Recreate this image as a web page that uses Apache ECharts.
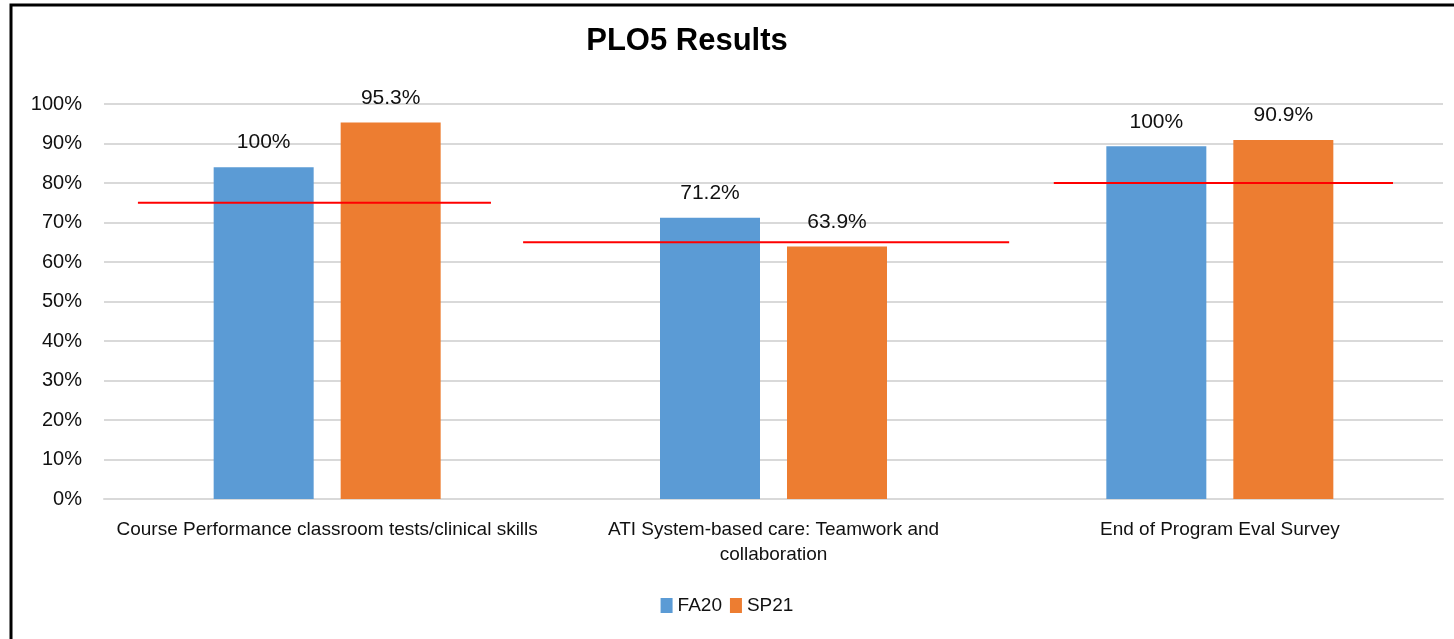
<!DOCTYPE html>
<html>
<head>
<meta charset="utf-8">
<title>PLO5 Results</title>
<script src="https://cdn.jsdelivr.net/npm/echarts@6/dist/echarts.min.js"></script>
<style>
  html, body { margin: 0; padding: 0; background: #fff; }
  #chart { width: 1454px; height: 639px; }
</style>
</head>
<body>
<div id="chart"></div>
<script>
// categories and series
var categories = [
  'Course Performance classroom tests/clinical skills',
  'ATI System-based care: Teamwork and\ncollaboration',
  'End of Program Eval Survey'
];
var fa20 = [84.0, 71.2, 89.3];
var sp21 = [95.3, 63.9, 90.9];
// label text shown above the bars (as printed on the chart)
var fa20Labels = ['100%', '71.2%', '100%'];
var sp21Labels = ['95.3%', '63.9%', '90.9%'];
// red target lines: value, start / end along the category scale
var targets = [75, 65, 80];
var targetFrom = [-0.424, 0.439, 1.628];
var targetTo = [0.367, 1.528, 2.388];
var yTicks = [0, 10, 20, 30, 40, 50, 60, 70, 80, 90, 100];

var chart = echarts.init(document.getElementById('chart'));

var font = '"Liberation Sans", Arial, sans-serif';

var targetSeries = targets.map(function (t, i) {
  return {
    name: 'target' + i,
    type: 'line',
    xAxisIndex: 1,
    symbol: 'none',
    silent: true,
    lineStyle: { color: '#ff0000', width: 2 },
    data: [[targetFrom[i], t], [targetTo[i], t]],
    z: 5
  };
});

var option = {
  animation: false,
  textStyle: { fontFamily: font },
  title: {
    text: 'PLO5 Results',
    left: 682,
    top: 21,
    textAlign: 'center',
    textStyle: { fontSize: 31, fontWeight: 'bold', color: '#000', fontFamily: font }
  },
  graphic: [{
    type: 'rect',
    shape: { x: 11, y: 5, width: 1500, height: 700 },
    style: { fill: 'none', stroke: '#000', lineWidth: 3 },
    silent: true
  }],
  legend: {
    data: ['FA20', 'SP21'],
    bottom: 19,
    left: 'center',
    itemWidth: 12,
    itemHeight: 15,
    itemGap: 8,
    icon: 'rect',
    textStyle: { fontSize: 19, color: '#111', fontFamily: font }
  },
  grid: { left: 104, right: 11, top: 104, bottom: 140, containLabel: false },
  xAxis: [{
    type: 'category',
    data: categories,
    axisTick: { show: false },
    axisLine: { show: true, lineStyle: { color: '#d9d9d9', width: 2 } },
    axisLabel: {
      interval: 0,
      margin: 18,
      fontSize: 19,
      lineHeight: 25,
      color: '#111',
      fontFamily: font
    }
  }, {
    type: 'value',
    min: -0.5,
    max: 2.5,
    show: false
  }],
  yAxis: {
    type: 'value',
    min: 0,
    max: 100,
    interval: 10,
    axisLine: { show: false },
    axisTick: { show: false },
    splitLine: { lineStyle: { color: '#d9d9d9', width: 2 } },
    axisLabel: {
      margin: 22,
      fontSize: 20,
      color: '#111',
      fontFamily: font,
      formatter: function (v) { return yTicks.indexOf(v) >= 0 ? v + '%' : ''; }
    }
  },
  series: [{
    name: 'FA20',
    type: 'bar',
    data: fa20,
    barWidth: 100,
    barGap: '27%',
    itemStyle: { color: '#5b9bd5' },
    label: {
      show: true,
      position: 'top',
      distance: 14,
      fontSize: 21,
      color: '#111',
      fontFamily: font,
      formatter: function (p) { return fa20Labels[p.dataIndex]; }
    }
  }, {
    name: 'SP21',
    type: 'bar',
    data: sp21,
    barWidth: 100,
    barGap: '27%',
    itemStyle: { color: '#ed7d31' },
    label: {
      show: true,
      position: 'top',
      distance: 14,
      fontSize: 21,
      color: '#111',
      fontFamily: font,
      formatter: function (p) { return sp21Labels[p.dataIndex]; }
    }
  }].concat(targetSeries)
};

chart.setOption(option);
</script>
</body>
</html>
